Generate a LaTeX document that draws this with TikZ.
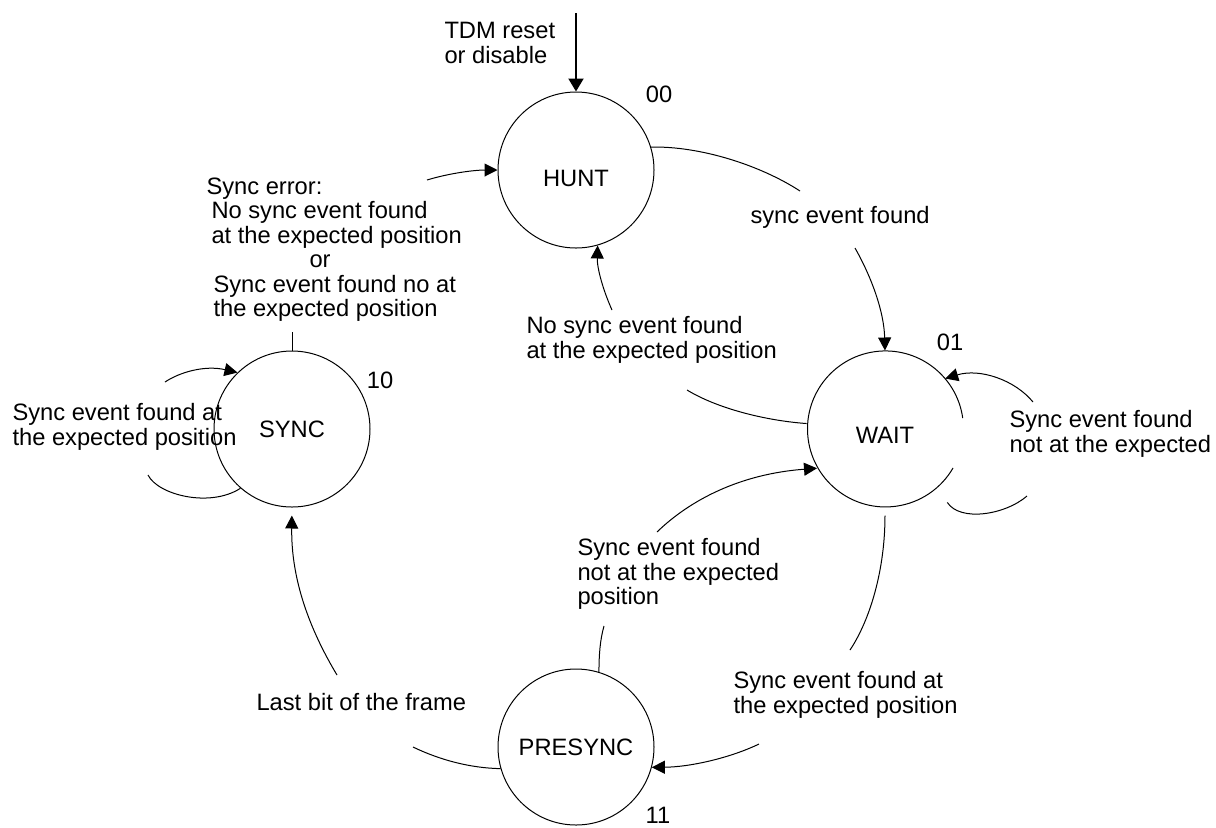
\documentclass[tikz,border=0pt]{standalone}
\usepackage{fontspec}
\setmainfont{Liberation Sans}
\usetikzlibrary{arrows.meta}

\tikzset{
  state/.style={draw, circle, minimum size=78pt, inner sep=0pt},
  lbl/.style={align=left, inner sep=0pt, anchor=north west},
  >={Triangle[length=6.5pt,width=6.5pt]},
}

\begin{document}
\begin{tikzpicture}[x=0.5pt, y=-0.5pt, line width=0.5pt,
    font=\fontsize{11.85}{12.25}\selectfont]
  \path[use as bounding box, fill=white] (0,0) rectangle (1216,827);

  % states
  \node[state, text height=16.5pt, text depth=0pt] (q00) at (576,170) {HUNT};
  \node[state, draw=none, text height=14.5pt, text depth=0pt] (q01) at (885,429) {WAIT};
  \node[state] (q10) at (292,429) {SYNC};
  \node[state] (q11) at (576,747) {PRESYNC};
  % WAIT outline is open on its right side
  \draw (q01.8) arc[start angle=-8, end angle=-330, radius=78];

  % state codes
  \node (n00) at (659,94) {00};
  \node (n01) at (950,342) {01};
  \node (n10) at (380,380) {10};
  \node (n11) at (658,815) {11};

  % transition labels
  \node[lbl] (rst) at (444,22) {TDM reset\\or disable};
  \node[lbl] (t1) at (750,206) {sync event found};
  \node[lbl] (t2) at (526,316) {No sync event found\\at the expected position};
  \node[lbl] (t3) at (206,177) {Sync error:\\
    \hspace*{2.5pt}No sync event found\\
    \hspace*{2.5pt}at the expected position\\
    \hspace*{51.5pt}or\\
    \hspace*{3.5pt}Sync event found no at\\
    \hspace*{3.5pt}the expected position};
  \node[lbl] (t4) at (12,403) {Sync event found at\\the expected position};
  \node[lbl] (t5) at (1009,410) {Sync event found\\not at the expected};
  \node[lbl] (t6) at (577,538) {Sync event found\\not at the expected\\position};
  \node[lbl] (t7) at (733,671) {Sync event found at\\the expected position};
  \node[lbl] (t8) at (256,693) {Last bit of the frame};

  % loose ends of the broken arcs
  \coordinate (top) at (576,13);
  \coordinate (a1) at (800,191);  \coordinate (a2) at (855,248);
  \coordinate (b1) at (687,390);  \coordinate (b2) at (612,310);
  \coordinate (c1) at (292,332);  \coordinate (c2) at (427,180);
  \coordinate (d1) at (850,650);  \coordinate (d2) at (759,744);
  \coordinate (e1) at (604,626);  \coordinate (e2) at (657,532);
  \coordinate (f1) at (413,747);  \coordinate (f2) at (337,675);
  \coordinate (g1) at (148,475);  \coordinate (g2) at (165,382);
  \coordinate (h1) at (1027,496); \coordinate (h2) at (1033,402);

  % reset
  \draw[line width=1pt, -{Triangle[length=6.5pt,width=7.5pt]}] (top) -- (q00.north);

  % HUNT -> WAIT
  \draw (q00.17) .. controls (700,146) and (760,165) .. (a1);
  \draw[->] (a2) .. controls (872,278) and (884,312) .. (q01.north);
  % WAIT -> HUNT
  \draw (q01.176) .. controls (770,421) and (720,410) .. (b1);
  \draw[->] (b2) .. controls (603,290) and (597,268) .. (q00.-74);
  % SYNC -> HUNT
  \draw (q10.north) -- (c1);
  \draw[->] (c2) .. controls (450,173) and (475,170) .. (q00.west);
  % WAIT -> PRESYNC
  \draw[shorten <=4pt] (q01.south) .. controls (885,570) and (870,620) .. (d1);
  \draw[->] (d2) .. controls (730,758) and (690,767) .. (q11.-15);
  % PRESYNC -> WAIT
  \draw (q11.73) .. controls (599,655) and (600,640) .. (e1);
  \draw[->] (e2) .. controls (690,500) and (740,474) .. (q01.210);
  % PRESYNC -> SYNC
  \draw (q11.196) .. controls (470,768) and (440,760) .. (f1);
  \draw[->, shorten >=4pt] (f2) .. controls (310,630) and (291,580) .. (q10.south);
  % SYNC loop
  \draw (q10.229) .. controls (210,508) and (158,495) .. (g1);
  \draw[->] (g2) .. controls (180,372) and (205,365) .. (q10.134);
  % WAIT loop
  \draw[shorten <=9pt] (q01.-48) .. controls (960,522) and (1005,515) .. (h1);
  \draw[->] (h2) .. controls (1015,380) and (980,368) .. (q01.40);

\end{tikzpicture}
\end{document}
